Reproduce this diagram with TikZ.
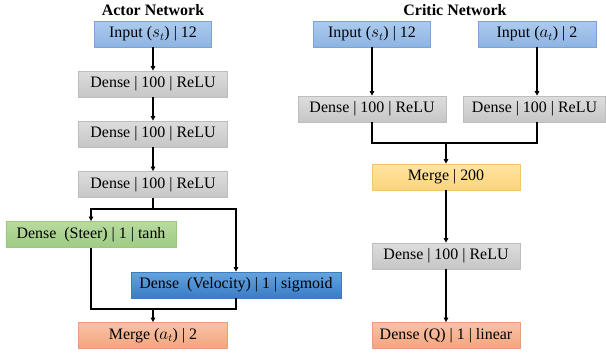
\documentclass[tikz,border=0pt]{standalone}
\usepackage{fontspec}
\setmainfont{Liberation Serif}
\usetikzlibrary{arrows.meta}
\begin{document}
\begin{tikzpicture}[x=1bp,y=-1bp,
  box/.style={rectangle, minimum height=26bp, inner sep=0pt, line width=0.8bp,
    font=\fontsize{16}{18}\selectfont},
  inbox/.style={box, top color=InTop, bottom color=InBot, draw=InBd},
  densebox/.style={box, top color=DTop, bottom color=DBot, draw=DBd},
  steerbox/.style={box, top color=STop, bottom color=SBot, draw=SBd},
  velbox/.style={box, top color=VTop, bottom color=VBot, draw=VBd},
  mergeboxy/.style={box, top color=YTop, bottom color=YBot, draw=YBd},
  mergeboxs/.style={box, top color=OTop, bottom color=OBot, draw=OBd},
  ttl/.style={font=\fontsize{16}{18}\selectfont\bfseries},
  conn/.style={line width=1.6bp, draw=black},
  arr/.style={conn, -{Triangle[length=4.5bp,width=4.5bp]}}
]
\definecolor{InTop}{HTML}{ADCBEE}\definecolor{InBot}{HTML}{8DB4E2}\definecolor{InBd}{HTML}{7BA3D6}
\definecolor{DTop}{HTML}{DDDDDD}\definecolor{DBot}{HTML}{C6C6C6}\definecolor{DBd}{HTML}{BDBDBD}
\definecolor{STop}{HTML}{B8DA9F}\definecolor{SBot}{HTML}{9FCB83}\definecolor{SBd}{HTML}{9CC77F}
\definecolor{VTop}{HTML}{64A3DE}\definecolor{VBot}{HTML}{3A7CC6}\definecolor{VBd}{HTML}{3F7BC0}
\definecolor{YTop}{HTML}{FFE4A3}\definecolor{YBot}{HTML}{FDD47A}\definecolor{YBd}{HTML}{F2C66A}
\definecolor{OTop}{HTML}{F9C3A5}\definecolor{OBot}{HTML}{F2A480}\definecolor{OBd}{HTML}{E99F7B}
\useasboundingbox (0,0) rectangle (606,353);

% Actor network
\node[ttl] (atitle) at (153,10) {Actor Network};
\node[inbox, minimum width=117bp] (ain) at (153,34) {Input ($s_t$) | 12};
\node[densebox, minimum width=149bp] (ad1) at (153,84) {Dense | 100 | ReLU};
\node[densebox, minimum width=149bp] (ad2) at (153,134) {Dense | 100 | ReLU};
\node[densebox, minimum width=149bp] (ad3) at (153,184.5) {Dense | 100 | ReLU};
\node[steerbox, minimum width=170bp] (steer) at (91,234.5) {Dense~~(Steer) | 1 | tanh};
\node[velbox, minimum width=210bp] (vel) at (236,285) {Dense~~(Velocity) | 1 | sigmoid};
\node[mergeboxs, minimum width=149bp] (amerge) at (153,335.5) {Merge ($a_t$) | 2};

\draw[arr] (ain) -- (ad1);
\draw[arr] (ad1) -- (ad2);
\draw[arr] (ad2) -- (ad3);
\coordinate (ab) at (153,209);
\draw[conn] (ad3.south) -- (ab);
\draw[arr] (ab) -| (steer.north);
\draw[arr] (ab) -| (vel.north);
\coordinate (am) at (153,309);
\draw[conn] (steer.south) |- (am);
\draw[conn] (vel.south) |- (am);
\draw[arr] (am) -- (amerge.north);

% Critic network
\node[ttl] (ctitle) at (455,10) {Critic Network};
\node[inbox, minimum width=117bp] (cin1) at (372,34) {Input ($s_t$) | 12};
\node[inbox, minimum width=118bp] (cin2) at (537,34) {Input ($a_t$) | 2};
\node[densebox, minimum width=148bp] (cdl) at (372,109) {Dense | 100 | ReLU};
\node[densebox, minimum width=142bp] (cdr) at (534.5,109) {Dense | 100 | ReLU};
\node[mergeboxy, minimum width=148bp] (cmerge) at (446,177) {Merge | 200};
\node[densebox, minimum width=148bp] (cd) at (446,256) {Dense | 100 | ReLU};
\node[mergeboxs, minimum width=148bp] (cq) at (446,335.5) {Dense (Q) | 1 | linear};

\draw[arr] (cin1.south) -- (cin1.south |- cdl.north);
\draw[arr] (cin2.south) -- (cin2.south |- cdr.north);
\coordinate (cj) at (446,143);
\draw[conn] (cin1.south |- cdl.south) |- (cj);
\draw[conn] (cin2.south |- cdr.south) |- (cj);
\draw[arr] (cj) -- (cmerge.north);
\draw[arr] (cmerge) -- (cd);
\draw[arr] (cd) -- (cq);
\end{tikzpicture}
\end{document}
